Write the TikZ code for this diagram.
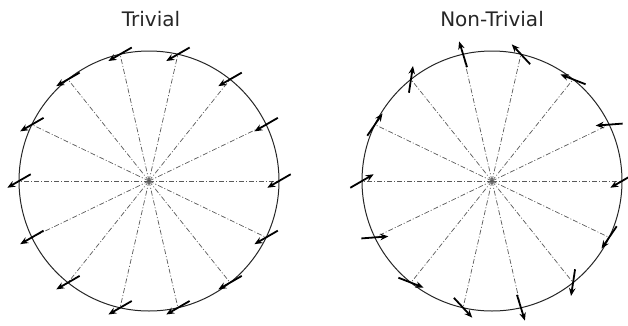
\documentclass[tikz,border=0pt]{standalone}
\usepackage{fontspec}
\setmainfont{DejaVu Sans}
\usetikzlibrary{arrows.meta,calc}
\tikzset{
  rim/.style={line width=1pt,black!85},
  spoke/.style={line width=0.7pt,black!65,dash pattern=on 5pt off 2pt on 1pt off 2pt},
  vec/.style={-{Stealth[length=8pt,width=6.5pt]},line width=1.8pt},
  ttl/.style={font=\fontsize{20}{24}\selectfont,anchor=base,text=black!85},
}
\begin{document}
\begin{tikzpicture}[x=1pt,y=1pt]
  \useasboundingbox (0,0) rectangle (628,325);
  % centres of the two loops
  \coordinate (cL) at (149,144);
  \coordinate (cR) at (492,144);
  \node[ttl] (tL) at (151,298.5) {Trivial};
  \node[ttl] (tR) at (492,298.5) {Non-Trivial};
  \draw[rim] (cL) circle (130);
  \draw[rim] (cR) circle (130);
  \foreach \k in {0,...,13}{
    \pgfmathsetmacro{\th}{\k*360/14}
    \coordinate (pL\k) at ($(cL)+(\th:130)$);
    \coordinate (pR\k) at ($(cR)+(\th:130)$);
    \draw[spoke] (cL) -- (pL\k);
    \draw[spoke] (cR) -- (pR\k);
    % trivial: the same direction all round
    \draw[vec] ($(pL\k)+(30:13.5)$) -- ($(pL\k)+(210:13.5)$);
    % non-trivial: direction winds once round the loop
    \pgfmathsetmacro{\ph}{210-\th}
    \draw[vec] ($(pR\k)-(\ph:13.5)$) -- ($(pR\k)+(\ph:13.5)$);
  }
\end{tikzpicture}
\end{document}
